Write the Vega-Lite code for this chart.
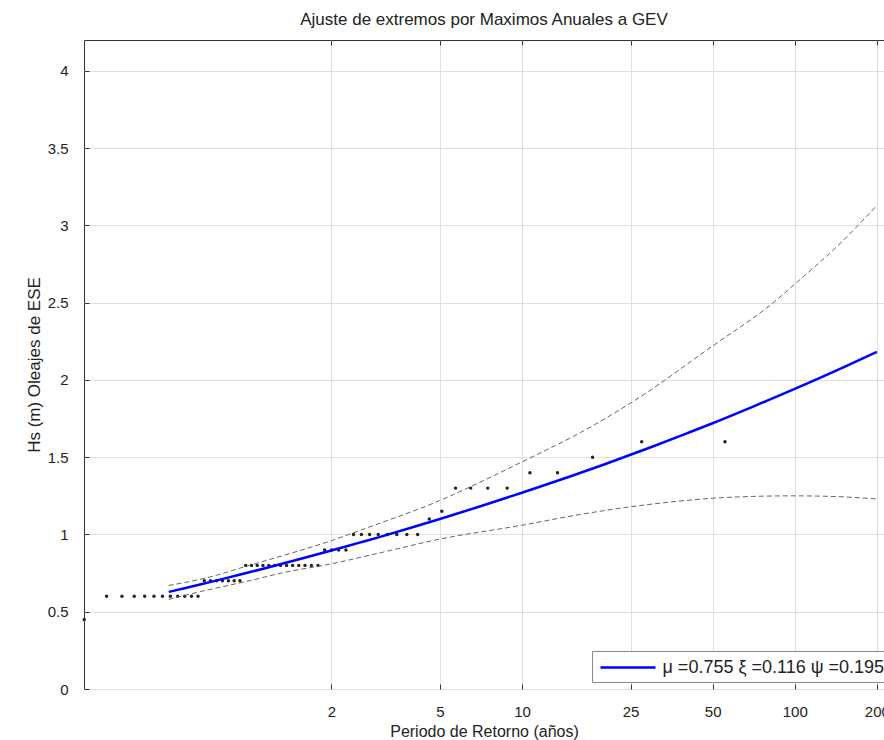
{
  "$schema": "https://vega.github.io/schema/vega-lite/v6.json",
  "width": 800,
  "height": 649,
  "autosize": "none",
  "padding": {"left": 84, "top": 40, "right": 0, "bottom": 51},
  "background": "white",
  "title": {"text": "Ajuste de extremos por Maximos Anuales a GEV", "fontSize": 17, "fontWeight": "normal", "font": "Liberation Sans", "color": "#222", "offset": 11},
  "config": {
    "view": {"stroke": "#333", "strokeWidth": 1},
    "axis": {"labelFont": "Liberation Sans", "labelFontSize": 15, "labelColor": "#222", "titleFont": "Liberation Sans", "titleFontSize": 16, "titleFontWeight": "normal", "titleColor": "#222", "gridColor": "#e0e0e0", "gridWidth": 1, "tickColor": "#333", "domain": false}
  },
  "datasets": {
    "pts": [
      {"T": 0.2484, "Hs": 0.45}, {"T": 0.3001, "Hs": 0.6}, {"T": 0.3417, "Hs": 0.6}, {"T": 0.3789, "Hs": 0.6},
      {"T": 0.4139, "Hs": 0.6}, {"T": 0.4477, "Hs": 0.6}, {"T": 0.4809, "Hs": 0.6}, {"T": 0.5139, "Hs": 0.6},
      {"T": 0.547, "Hs": 0.6}, {"T": 0.5805, "Hs": 0.6}, {"T": 0.6145, "Hs": 0.6}, {"T": 0.6492, "Hs": 0.6},
      {"T": 0.6847, "Hs": 0.7}, {"T": 0.7213, "Hs": 0.7}, {"T": 0.7592, "Hs": 0.7}, {"T": 0.7982, "Hs": 0.7},
      {"T": 0.8388, "Hs": 0.7}, {"T": 0.8811, "Hs": 0.7}, {"T": 0.9251, "Hs": 0.7}, {"T": 0.9712, "Hs": 0.8},
      {"T": 1.0196, "Hs": 0.8}, {"T": 1.0703, "Hs": 0.8}, {"T": 1.1237, "Hs": 0.8}, {"T": 1.1802, "Hs": 0.8},
      {"T": 1.2399, "Hs": 0.8}, {"T": 1.3033, "Hs": 0.8}, {"T": 1.3708, "Hs": 0.8}, {"T": 1.4427, "Hs": 0.8},
      {"T": 1.5196, "Hs": 0.8}, {"T": 1.6021, "Hs": 0.8}, {"T": 1.691, "Hs": 0.8}, {"T": 1.7869, "Hs": 0.8},
      {"T": 1.891, "Hs": 0.9}, {"T": 2.004, "Hs": 0.9}, {"T": 2.1277, "Hs": 0.9}, {"T": 2.2635, "Hs": 0.9},
      {"T": 2.4131, "Hs": 1.0}, {"T": 2.5786, "Hs": 1.0}, {"T": 2.7639, "Hs": 1.0}, {"T": 2.9718, "Hs": 1.0},
      {"T": 3.2072, "Hs": 1.0}, {"T": 3.4758, "Hs": 1.0}, {"T": 3.7851, "Hs": 1.0}, {"T": 4.1459, "Hs": 1.0},
      {"T": 4.5725, "Hs": 1.1}, {"T": 5.0838, "Hs": 1.15}, {"T": 5.7078, "Hs": 1.3}, {"T": 6.4851, "Hs": 1.3},
      {"T": 7.4906, "Hs": 1.3}, {"T": 8.8261, "Hs": 1.3}, {"T": 10.695, "Hs": 1.4}, {"T": 13.495, "Hs": 1.4},
      {"T": 18.149, "Hs": 1.5}, {"T": 27.473, "Hs": 1.6}, {"T": 55.5, "Hs": 1.6}
    ],
    "fit": [
      {"T": 0.507, "Hs": 0.628}, {"T": 0.6, "Hs": 0.658}, {"T": 0.7, "Hs": 0.687}, {"T": 0.85, "Hs": 0.724},
      {"T": 1, "Hs": 0.755}, {"T": 1.2, "Hs": 0.791}, {"T": 1.5, "Hs": 0.836}, {"T": 2, "Hs": 0.896},
      {"T": 2.5, "Hs": 0.944}, {"T": 3, "Hs": 0.983}, {"T": 4, "Hs": 1.048}, {"T": 5, "Hs": 1.1},
      {"T": 7, "Hs": 1.181}, {"T": 10, "Hs": 1.27}, {"T": 15, "Hs": 1.375}, {"T": 20, "Hs": 1.453},
      {"T": 30, "Hs": 1.568}, {"T": 40, "Hs": 1.653}, {"T": 50, "Hs": 1.72}, {"T": 70, "Hs": 1.826},
      {"T": 100, "Hs": 1.942}, {"T": 150, "Hs": 2.08}, {"T": 200, "Hs": 2.182}
    ],
    "ic": [
      {"lim": "sup", "T": 0.507, "Hs": 0.67}, {"lim": "sup", "T": 0.7, "Hs": 0.72}, {"lim": "sup", "T": 1, "Hs": 0.8},
      {"lim": "sup", "T": 1.31, "Hs": 0.86}, {"lim": "sup", "T": 2, "Hs": 0.96}, {"lim": "sup", "T": 2.58, "Hs": 1.03},
      {"lim": "sup", "T": 5, "Hs": 1.22}, {"lim": "sup", "T": 10, "Hs": 1.47}, {"lim": "sup", "T": 16.4, "Hs": 1.66},
      {"lim": "sup", "T": 25, "Hs": 1.85}, {"lim": "sup", "T": 50, "Hs": 2.22}, {"lim": "sup", "T": 83.4, "Hs": 2.5},
      {"lim": "sup", "T": 100, "Hs": 2.62}, {"lim": "sup", "T": 150, "Hs": 2.9}, {"lim": "sup", "T": 200, "Hs": 3.13},
      {"lim": "inf", "T": 0.507, "Hs": 0.58}, {"lim": "inf", "T": 0.7, "Hs": 0.64}, {"lim": "inf", "T": 1, "Hs": 0.7},
      {"lim": "inf", "T": 1.31, "Hs": 0.75}, {"lim": "inf", "T": 2, "Hs": 0.81}, {"lim": "inf", "T": 3, "Hs": 0.88},
      {"lim": "inf", "T": 5, "Hs": 0.97}, {"lim": "inf", "T": 10, "Hs": 1.06}, {"lim": "inf", "T": 16.4, "Hs": 1.13},
      {"lim": "inf", "T": 27.9, "Hs": 1.19}, {"lim": "inf", "T": 35, "Hs": 1.21}, {"lim": "inf", "T": 56.6, "Hs": 1.24},
      {"lim": "inf", "T": 98.6, "Hs": 1.25}, {"lim": "inf", "T": 143, "Hs": 1.245}, {"lim": "inf", "T": 200, "Hs": 1.23}
    ]
  },
  "resolve": {"axis": {"x": "independent"}},
  "layer": [
    {
      "data": {"name": "pts"},
      "mark": {"type": "point", "filled": true, "size": 12, "color": "#222", "opacity": 1},
      "encoding": {
        "x": {"field": "T", "type": "quantitative",
              "scale": {"type": "log", "domain": [0.248, 212.4], "nice": false},
              "axis": {"orient": "top", "values": [2, 5, 10, 25, 50, 100, 200], "labels": false, "grid": false, "ticks": true, "tickSize": -5, "title": null}},
        "y": {"field": "Hs", "type": "quantitative",
              "scale": {"domain": [0, 4.2], "nice": false, "zero": false},
              "axis": {"values": [0, 0.5, 1, 1.5, 2, 2.5, 3, 3.5, 4], "format": "~g", "grid": true, "tickSize": -5, "labelPadding": 21, "title": "Hs (m) Oleajes de ESE", "titleFontSize": 17, "titlePadding": 4}}
      }
    },
    {
      "data": {"name": "ic"},
      "mark": {"type": "line", "color": "#666", "strokeWidth": 1, "strokeDash": [5, 3], "interpolate": "monotone"},
      "encoding": {
        "x": {"field": "T", "type": "quantitative",
              "axis": {"orient": "bottom", "values": [2, 5, 10, 25, 50, 100, 200], "format": "~g", "grid": true, "tickSize": -5, "labelPadding": 20, "title": "Periodo de Retorno (años)", "titlePadding": 4}},
        "y": {"field": "Hs", "type": "quantitative"},
        "detail": {"field": "lim"}
      }
    },
    {
      "data": {"name": "fit"},
      "mark": {"type": "line", "strokeWidth": 2.5, "interpolate": "monotone"},
      "encoding": {
        "x": {"field": "T", "type": "quantitative", "axis": null},
        "y": {"field": "Hs", "type": "quantitative"},
        "color": {"datum": "μ =0.755 ξ =0.116 ψ =0.195", "type": "nominal",
                  "scale": {"range": ["#0000ff"]},
                  "legend": {"orient": "none", "legendX": 508, "legendY": 611, "title": null,
                             "symbolType": "M-2.75,0H2.75", "symbolSize": 400, "symbolStrokeWidth": 2.5,
                             "symbolOffset": 19.5, "labelOffset": 23, "labelFontSize": 18, "labelFont": "Liberation Sans",
                             "labelColor": "#222", "labelLimit": 400, "strokeColor": "#888", "fillColor": "white", "padding": 5}}
      }
    }
  ]
}
